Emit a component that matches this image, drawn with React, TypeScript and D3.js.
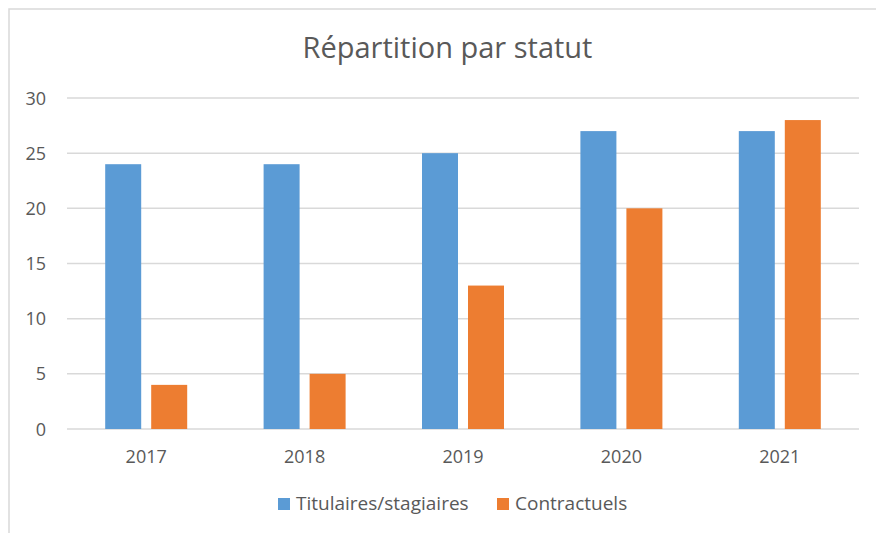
import React, { useRef, useEffect } from 'react';
import * as d3 from 'd3';

const years = ['2017', '2018', '2019', '2020', '2021'];
const titulaires = [24, 24, 25, 27, 27];
const contractuels = [4, 5, 13, 20, 28];
const seriesNames = ['Titulaires/stagiaires', 'Contractuels'];
const seriesColors = ['#5b9bd5', '#ed7d31'];
const yTicks = [0, 5, 10, 15, 20, 25, 30];

const FONT = '"Open Sans", "Noto Sans", sans-serif';

const App = () => {
  const svgRef = useRef<SVGSVGElement>(null);

  useEffect(() => {
    const root = d3.select(svgRef.current);
    root.selectAll('*').remove();

    const width = 876;
    const height = 533;
    const margin = { top: 98, right: 17, bottom: 104, left: 67 };
    const chartWidth = width - margin.left - margin.right;
    const chartHeight = height - margin.top - margin.bottom;

    root.attr('width', width).attr('height', height);

    // Chart area border (runs off the right and bottom edges)
    root
      .append('rect')
      .attr('x', 9)
      .attr('y', 9)
      .attr('width', 900)
      .attr('height', 600)
      .attr('fill', '#fff')
      .attr('stroke', '#d9d9d9')
      .attr('stroke-width', 1.5);

    // Title
    root
      .append('text')
      .attr('x', 447.5)
      .attr('y', 58)
      .attr('text-anchor', 'middle')
      .style('font-family', FONT)
      .style('font-size', '29px')
      .attr('fill', '#595959')
      .text('Répartition par statut');

    const svg = root
      .append('g')
      .attr('transform', `translate(${margin.left}, ${margin.top})`);

    const xScale = d3.scaleBand().domain(years).range([0, chartWidth]);

    const yScale = d3.scaleLinear().domain([0, 30]).range([chartHeight, 0]);

    // Gridlines
    svg
      .selectAll('.grid')
      .data(yTicks)
      .enter()
      .append('line')
      .attr('x1', 0)
      .attr('x2', chartWidth)
      .attr('y1', (d) => yScale(d))
      .attr('y2', (d) => yScale(d))
      .attr('stroke', '#d9d9d9')
      .attr('stroke-width', 1.5);

    // Y labels
    svg
      .selectAll('.ylabel')
      .data(yTicks)
      .enter()
      .append('text')
      .attr('x', -21)
      .attr('y', (d) => yScale(d) + 6.5)
      .attr('text-anchor', 'end')
      .style('font-family', FONT)
      .style('font-size', '18px')
      .attr('fill', '#595959')
      .text((d) => d);

    // X labels
    svg
      .selectAll('.xlabel')
      .data(years)
      .enter()
      .append('text')
      .attr('x', (d) => xScale(d)! + xScale.bandwidth() / 2)
      .attr('y', chartHeight + 34)
      .attr('text-anchor', 'middle')
      .style('font-family', FONT)
      .style('font-size', '18px')
      .attr('fill', '#595959')
      .text((d) => d);

    // Bars
    const barWidth = 36;
    const gap = 10;
    const series = [titulaires, contractuels];
    series.forEach((values, s) => {
      svg
        .selectAll(`.bar${s}`)
        .data(values)
        .enter()
        .append('rect')
        .attr('x', (_, i) => {
          const center = xScale(years[i])! + xScale.bandwidth() / 2;
          return s === 0 ? center - gap / 2 - barWidth : center + gap / 2;
        })
        .attr('y', (d) => yScale(d))
        .attr('width', barWidth)
        .attr('height', (d) => chartHeight - yScale(d))
        .attr('fill', seriesColors[s]);
    });

    // Legend
    const legendX = [278, 497];
    seriesNames.forEach((name, i) => {
      root
        .append('rect')
        .attr('x', legendX[i])
        .attr('y', 498)
        .attr('width', 12)
        .attr('height', 12)
        .attr('fill', seriesColors[i]);
      root
        .append('text')
        .attr('x', legendX[i] + 18)
        .attr('y', 510)
        .style('font-family', FONT)
        .style('font-size', '19px')
        .attr('fill', '#595959')
        .text(name);
    });
  }, []);

  return (
    <svg
      ref={svgRef}
      style={{ position: 'absolute', left: 0, top: 0, display: 'block' }}
    />
  );
};

export default App;
